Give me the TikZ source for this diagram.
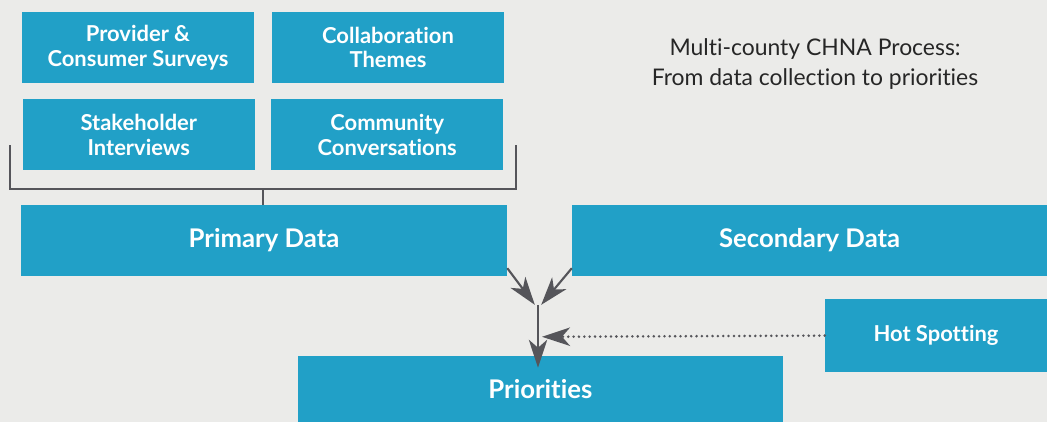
\documentclass[tikz,border=0pt]{standalone}
\usepackage{fontspec}
\setmainfont{Lato}[Ligatures={NoCommon}]
\usetikzlibrary{positioning,arrows.meta,calc}
\definecolor{boxblue}{HTML}{21A0C7}
\definecolor{paper}{HTML}{EBEBE9}
\definecolor{linegray}{HTML}{55555A}

\begin{document}
\begin{tikzpicture}

% Styles
\tikzset{
    boxstyle/.style={rectangle, fill=boxblue, text=white, inner sep=0pt, align=center, font=\fontsize{15.6}{17.5}\selectfont\bfseries},
    source/.style={boxstyle, minimum width=5.8cm, minimum height=1.775cm},
    databox/.style={boxstyle, minimum height=1.775cm, font=\fontsize{18.3}{21}\selectfont\bfseries},
    arrow/.style={-{Stealth[length=7mm, width=4.6mm, inset=2mm]}, line width=1.5pt, linegray},
    dotarrow/.style={arrow, line cap=round, dash pattern=on 0pt off 3.8pt, line width=2pt}
}

% Background
\fill[paper] (0,0) rectangle (26.175,-10.55);
\useasboundingbox (0,0) rectangle (26.175,-10.55);

% Sources
\node[source] (surveys) at (3.45, -1.19) {Provider \&\\Consumer Surveys};
\node[source] (themes) at (9.7, -1.19) {Collaboration\\Themes};
\node[source] (interviews) at (3.47, -3.37) {Stakeholder\\Interviews};
\node[source] (conversations) at (9.68, -3.37) {Community\\Conversations};

% Title
\node[align=center, font=\fontsize{16.3}{21.5}\selectfont, text=black!85] (title) at (20.375, -1.6) {Multi-county CHNA Process:\\From data collection to priorities};

% Data
\node[databox, minimum width=12.15cm] (primary) at (6.6, -6.01) {Primary Data};
\node[databox, minimum width=11.875cm] (secondary) at (20.24, -6.01) {Secondary Data};
\node[boxstyle, minimum width=5.55cm, minimum height=1.825cm] (hotspot) at (23.4, -8.39) {Hot Spotting};
\node[databox, minimum width=12.125cm, minimum height=1.65cm] (priorities) at (13.51, -9.725) {Priorities};

% Bracket
\coordinate (bl) at (0.25, -3.625);
\coordinate (br) at (12.9, -3.625);
\draw[line width=1.4pt, linegray] (bl) |- (br |- 0,-4.725) -- (br);
\draw[line width=1.4pt, linegray] (primary.north -| 6.575,0) -- (6.575, -4.725);

% Arrows
\coordinate (join) at (13.45, -7.62);
\draw[arrow] ([yshift=0.2cm]primary.south east) -- ([xshift=-0.08cm]join);
\draw[arrow] ([yshift=0.2cm]secondary.south west) -- ([xshift=0.08cm]join);
\draw[arrow] (join) -- ([yshift=-0.3cm]priorities.north -| join);
\draw[dotarrow] (hotspot.west) -- ($(join)+(0.1,-0.8)$);

\end{tikzpicture}
\end{document}
